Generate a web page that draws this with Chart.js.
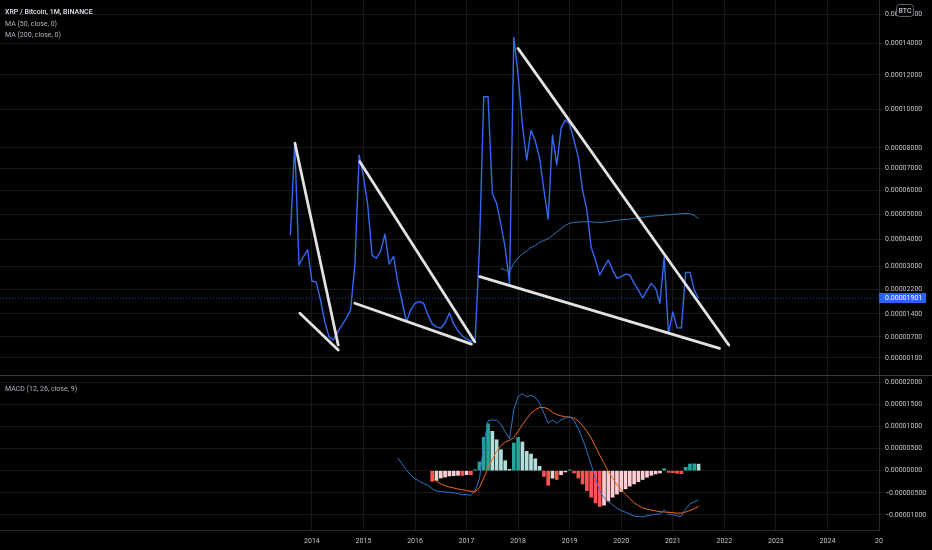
<!DOCTYPE html>
<html>
<head>
<meta charset="utf-8">
<script src="https://cdn.jsdelivr.net/npm/chart.js@4.4.1/dist/chart.umd.min.js"></script>
<style>
html,body{margin:0;padding:0;background:#000;overflow:hidden;}
#wrap{position:relative;width:932px;height:550px;background:#000;}
canvas{position:absolute;left:0;}
#main{top:0;}
#macd{top:375px;}
.lg{position:absolute;left:5px;font-family:Roboto,sans-serif;font-size:7px;color:#b2b5be;white-space:nowrap;line-height:12px;}
</style>
</head>
<body>
<div id="wrap">
  <canvas id="main" width="932" height="375"></canvas>
  <canvas id="macd" width="932" height="175"></canvas>
  <div class="lg" style="top:6px;color:#dfe2e8;font-weight:500">XRP / Bitcoin, 1M, BINANCE</div>
  <div class="lg" style="top:18px">MA (50, close, 0)</div>
  <div class="lg" style="top:28.5px">MA (200, close, 0)</div>
  <div class="lg" style="top:383px">MACD (12, 26, close, 9)</div>
</div>
<script>
// ---------------- DATA (values in units of 1e-5 BTC) ----------------
const E5 = 1e-5;
const FIRST_YEAR = 2013, FIRST_MONTH = 8;   // first monthly bar: Aug 2013

const closeE5 = [
  4.16, 8.24, 3.04, 3.34, 3.60, 2.48, 2.44, 1.85, 1.15, 0.70, 0.61, 0.85,
  1.05, 1.27, 1.52, 3.04, 7.65, 6.63, 5.38, 3.39, 3.29, 3.55, 4.20, 3.07,
  3.36, 2.44, 1.78, 1.16, 1.52, 1.74, 1.79, 1.74, 1.37, 1.09, 1.00, 0.96,
  1.12, 1.43, 1.09, 0.88, 0.73, 0.64, 0.57, 0.62, 3.71, 10.72, 10.72, 5.88,
  5.45, 4.56, 3.66, 2.40, 14.40, 12.00, 9.17, 7.41, 8.90, 8.34, 7.50, 6.03,
  4.80, 8.65, 7.17, 9.01, 9.44, 9.22, 8.39, 7.55, 6.03, 5.17, 3.70, 3.22,
  2.69, 2.97, 3.22, 2.86, 2.57, 2.63, 2.72, 2.69, 2.40, 2.17, 1.91, 2.17,
  2.40, 2.23, 1.74, 3.33, 0.79, 1.46, 0.97, 0.97, 2.78, 2.78, 2.17, 1.901
];

const MA50_START = 49;
const ma50E5 = [
  2.92, 2.86, 2.80, 3.10, 3.30, 3.45, 3.55, 3.68, 3.76, 3.88, 3.95, 4.02,
  4.15, 4.28, 4.42, 4.55, 4.63, 4.66, 4.68, 4.69, 4.69, 4.68, 4.67, 4.66,
  4.67, 4.70, 4.72, 4.75, 4.77, 4.78, 4.80, 4.82, 4.85, 4.87, 4.90, 4.92,
  4.93, 4.94, 4.96, 4.97, 4.99, 5.00, 5.02, 5.03, 5.02, 4.95, 4.82
];

const MACD_START = 25;
const macdE5 = [
  0.29, 0.15, 0.02, -0.10, -0.18, -0.24, -0.29, -0.33, -0.41, -0.46, -0.47, -0.48,
  -0.49, -0.50, -0.52, -0.535, -0.54, -0.56, -0.46, -0.18, 0.59, 1.13, 1.15, 1.14,
  1.05, 0.88, 0.72, 1.38, 1.68, 1.74, 1.67, 1.71, 1.66, 1.53, 1.30, 1.07,
  1.15, 1.07, 1.15, 1.19, 1.23, 1.14, 0.95, 0.72, 0.44, 0.14, -0.18, -0.46,
  -0.61, -0.70, -0.77, -0.85, -0.90, -0.94, -0.98, -1.03, -1.04, -1.045, -1.02, -1.00,
  -0.985, -0.98, -0.89, -0.98, -0.995, -1.02, -1.03, -0.86, -0.75, -0.705, -0.66
];

const SIGNAL_START = 33;
const signalE5 = [
  -0.166, -0.24, -0.30, -0.34, -0.37, -0.39, -0.415, -0.43, -0.45, -0.47, -0.48, -0.38,
  -0.166, 0.075, 0.26, 0.44, 0.57, 0.65, 0.69, 0.75, 0.89, 1.04, 1.18, 1.30,
  1.38, 1.43, 1.43, 1.40, 1.32, 1.27, 1.24, 1.22, 1.21, 1.19, 1.12, 1.02,
  0.89, 0.74, 0.55, 0.35, 0.17, -0.015, -0.166, -0.32, -0.43, -0.53, -0.63, -0.73,
  -0.79, -0.845, -0.87, -0.89, -0.91, -0.93, -0.935, -0.94, -0.95, -0.96, -0.96, -0.935,
  -0.90, -0.86, -0.81
];

const HIST_START = 33;
const histE5 = [
  -0.24, -0.22, -0.166, -0.143, -0.12, -0.113, -0.105, -0.105, -0.09, -0.09, 0.023, 0.196,
  0.754, 1.06, 0.89, 0.70, 0.475, 0.226, 0.03, 0.626, 0.754, 0.65, 0.437, 0.377,
  0.27, 0.10, -0.128, -0.33, -0.17, -0.20, -0.09, -0.03, 0.02, -0.053, -0.166, -0.30,
  -0.45, -0.60, -0.73, -0.81, -0.78, -0.69, -0.60, -0.53, -0.47, -0.41, -0.35, -0.30,
  -0.25, -0.20, -0.15, -0.106, -0.075, -0.053, 0.045, -0.038, -0.045, -0.06, -0.068, 0.075,
  0.15, 0.155, 0.148
];

// user-drawn trend lines: [startYear, startValueE5, endYear, endValueE5]
const trendLines = [
  [2013.671, 8.23, 2014.510, 0.465],
  [2013.767, 1.42, 2014.510, 0.32],
  [2014.930, 7.33, 2017.159, 0.56],
  [2014.833, 1.74, 2017.095, 0.49],
  [2017.998, 13.67, 2022.087, 0.465],
  [2017.256, 2.63, 2021.907, 0.37]
];

const priceTicksE5 = [0.1, 0.7, 1.4, 2.2, 3, 4, 5, 6, 7, 8, 10, 12, 14, 16];
const macdTicksE5 = [-1, -0.5, 0, 0.5, 1, 1.5, 2];
const yearTicks = [2014, 2015, 2016, 2017, 2018, 2019, 2020, 2021, 2022, 2023, 2024, 2025];
const yearLabels = ['2014','2015','2016','2017','2018','2019','2020','2021','2022','2023','2024','20'];

// ---------------- SETUP ----------------
const X_MIN = 2007.95, X_MAX = 2025.0;
const PRICE_MIN = -0.364 * E5, PRICE_MAX = 17.04 * E5;
const MACD_MIN = -1.342 * E5, MACD_MAX = 2.165 * E5;
const LOG_SHIFT = 10 * E5;

const monthX = i => FIRST_YEAR + (FIRST_MONTH - 1 + i) / 12;
const pts = (arr, start) => arr.map((v, k) => ({ x: monthX(start + k), y: v * E5 }));

class OffsetLogScale extends Chart.LinearScale {
  static id = 'offsetLog';
  _tf(v) { return Math.log(v + LOG_SHIFT); }
  getPixelForValue(value) {
    if (value === null || value === undefined || isNaN(value)) return NaN;
    const a = this._tf(this.min), b = this._tf(this.max);
    return this.getPixelForDecimal((this._tf(value) - a) / (b - a));
  }
  getValueForPixel(pixel) {
    const a = this._tf(this.min), b = this._tf(this.max);
    return Math.exp(a + this.getDecimalForPixel(pixel) * (b - a)) - LOG_SHIFT;
  }
}
Chart.register(OffsetLogScale);

Chart.defaults.font.family = 'Roboto';
Chart.defaults.font.size = 7;
Chart.defaults.color = '#c3c6cd';
Chart.defaults.animation = false;

const GRID = '#191919';
const AXIS_W = 53;
const fmt = v => (v < 0 ? '\u2212' : '') + Math.abs(v).toFixed(8);
const zeroPad = s => { s.paddingTop = 0; s.paddingBottom = 0; s.paddingLeft = 0; s.paddingRight = 0; };

const lastClose = closeE5[closeE5.length - 1] * E5;

const mainDecor = {
  id: 'mainDecor',
  afterDraw(chart) {
    const { ctx, chartArea } = chart;
    const y = chart.scales.y.getPixelForValue(lastClose);
    ctx.save();
    ctx.fillStyle = '#2962ff';
    ctx.fillRect(chartArea.right, Math.round(y) - 5, 47, 10);
    ctx.fillStyle = '#ffffff';
    ctx.font = '7px Roboto';
    ctx.textBaseline = 'middle';
    ctx.textAlign = 'left';
    ctx.fillText(fmt(lastClose), chartArea.right + 6, Math.round(y) + 0.5);
    // currency badge
    const bx = chartArea.right + 17.5, by = 4.5, bw = 17, bh = 12, r = 3;
    ctx.beginPath();
    ctx.moveTo(bx + r, by); ctx.lineTo(bx + bw - r, by); ctx.quadraticCurveTo(bx + bw, by, bx + bw, by + r);
    ctx.lineTo(bx + bw, by + bh - r); ctx.quadraticCurveTo(bx + bw, by + bh, bx + bw - r, by + bh);
    ctx.lineTo(bx + r, by + bh); ctx.quadraticCurveTo(bx, by + bh, bx, by + bh - r);
    ctx.lineTo(bx, by + r); ctx.quadraticCurveTo(bx, by, bx + r, by);
    ctx.closePath();
    ctx.fillStyle = '#000';
    ctx.fill();
    ctx.strokeStyle = '#5d606b';
    ctx.lineWidth = 1;
    ctx.stroke();
    ctx.fillStyle = '#e6e8ee';
    ctx.textAlign = 'center';
    ctx.fillText('BTC', bx + bw / 2, by + bh / 2 + 0.5);
    ctx.restore();
  }
};

const paneSep = {
  id: 'paneSep',
  afterDraw(chart) {
    const { ctx } = chart;
    ctx.save();
    ctx.strokeStyle = '#3a3a3a';
    ctx.lineWidth = 1;
    ctx.beginPath();
    ctx.moveTo(0, 0.5);
    ctx.lineTo(chart.width, 0.5);
    ctx.stroke();
    ctx.restore();
  }
};

const xGridScale = (showLabels) => ({
  type: 'linear',
  min: X_MIN, max: X_MAX,
  bounds: 'data',
  offset: false,
  afterBuildTicks: s => { s.ticks = yearTicks.map(v => ({ value: v })); },
  afterFit: s => { zeroPad(s); if (!showLabels) s.height = 0; else s.height = 20; },
  grid: { color: GRID, drawTicks: false, offset: false },
  border: { display: showLabels, color: '#2a2a2a' },
  ticks: {
    display: showLabels, autoSkip: false, maxRotation: 0, padding: 7,
    color: '#c3c6cd',
    callback: (v) => yearLabels[yearTicks.indexOf(v)] ?? ''
  }
});

// ---------------- MAIN PANE ----------------
const trendSets = trendLines.map(l => ({
  data: [{ x: l[0], y: l[1] * E5 }, { x: l[2], y: l[3] * E5 }],
  borderColor: '#e2e2e2', borderWidth: 2.8, borderCapStyle: 'round', pointRadius: 0
}));

new Chart(document.getElementById('main'), {
  type: 'line',
  data: {
    datasets: [
      ...trendSets,
      { data: pts(closeE5, 0), borderColor: '#3468f2', borderWidth: 1.4, pointRadius: 0, tension: 0, borderJoinStyle: 'round' },
      { data: pts(ma50E5, MA50_START), borderColor: '#2a78b8', borderWidth: 1, pointRadius: 0, tension: 0 },
      { data: [{ x: X_MIN, y: lastClose }, { x: X_MAX, y: lastClose }], borderColor: 'rgba(41,98,255,0.75)',
        borderWidth: 1, borderDash: [1, 2], pointRadius: 0 }
    ]
  },
  options: {
    responsive: false,
    devicePixelRatio: 1,
    layout: { padding: 0 },
    plugins: { legend: { display: false }, tooltip: { enabled: false } },
    scales: {
      x: xGridScale(false),
      y: {
        type: 'offsetLog',
        position: 'right',
        min: PRICE_MIN, max: PRICE_MAX,
        bounds: 'data',
        afterBuildTicks: s => { s.ticks = priceTicksE5.map(v => ({ value: v * E5 })); },
        afterFit: s => { zeroPad(s); s.width = AXIS_W; },
        grid: { color: GRID, tickLength: 4 },
        border: { display: true, color: '#2a2a2a' },
        ticks: { autoSkip: false, padding: 2, callback: v => fmt(v) }
      }
    }
  },
  plugins: [mainDecor]
});

// ---------------- MACD PANE ----------------
const histColors = histE5.map((v, k) => {
  const prev = k > 0 ? histE5[k - 1] : undefined;
  const grow = prev !== undefined && prev < v;
  if (v >= 0) return grow ? '#26a69a' : '#b2dfdb';
  return grow ? '#ffcdd2' : '#ff5252';
});

new Chart(document.getElementById('macd'), {
  type: 'bar',
  data: {
    datasets: [
      { type: 'line', data: pts(macdE5, MACD_START), borderColor: '#2c74cf', borderWidth: 1, pointRadius: 0, tension: 0 },
      { type: 'line', data: pts(signalE5, SIGNAL_START), borderColor: '#ef6a16', borderWidth: 1, pointRadius: 0, tension: 0 },
      { type: 'bar', data: pts(histE5, HIST_START), backgroundColor: histColors, barThickness: 3, borderWidth: 0 }
    ]
  },
  options: {
    responsive: false,
    devicePixelRatio: 1,
    layout: { padding: 0 },
    plugins: { legend: { display: false }, tooltip: { enabled: false } },
    scales: {
      x: xGridScale(true),
      y: {
        type: 'linear',
        position: 'right',
        min: MACD_MIN, max: MACD_MAX,
        bounds: 'data',
        afterBuildTicks: s => { s.ticks = macdTicksE5.map(v => ({ value: v * E5 })); },
        afterFit: s => { zeroPad(s); s.width = AXIS_W; },
        grid: { color: GRID, tickLength: 4 },
        border: { display: true, color: '#2a2a2a' },
        ticks: { autoSkip: false, padding: 2, callback: v => fmt(v) }
      }
    }
  },
  plugins: [paneSep]
});
</script>
</body>
</html>
